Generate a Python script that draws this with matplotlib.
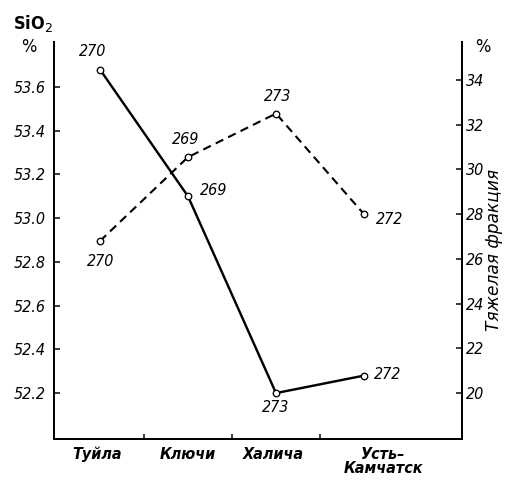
import matplotlib
matplotlib.use("Agg")
import matplotlib.pyplot as plt

# ---- data ----
categories = ["Туйла", "Ключи", "Халича", "Усть–\nКамчатск"]
sio2 = [53.68, 53.10, 52.20, 52.28]          # solid line, left axis (%)
sio2_labels = ["270", "269", "273", "272"]
heavy = [26.8, 30.55, 32.5, 28.0]            # dashed line, right axis (%)
heavy_labels = ["270", "269", "273", "272"]
left_ticks = [52.2, 52.4, 52.6, 52.8, 53.0, 53.2, 53.4, 53.6]
right_ticks = [20, 22, 24, 26, 28, 30, 32, 34]

FAM = ["DejaVu Sans"]
tick_font = dict(family=FAM, style="italic", stretch="condensed", size=16)

DPI = 72
fig = plt.figure(figsize=(506 / DPI, 482 / DPI), dpi=DPI)
ax = fig.add_axes([54 / 506, 1 - 439 / 482, 408 / 506, 397 / 482])
ax2 = ax.twinx()

x = list(range(len(categories)))

ax.plot(x, sio2, color="black", lw=2.4, marker="o", ms=6.5,
        mfc="white", mec="black", mew=1.3, zorder=3)
ax2.plot(x, heavy, color="black", lw=2.1, ls=(0, (4, 2.6)), marker="o", ms=6.5,
         mfc="white", mec="black", mew=1.3, zorder=3)

ax.set_xlim(-0.523, 4.114)
ax.set_ylim(51.99, 53.806)
ax2.set_ylim(17.943, 35.70)

for a in (ax, ax2):
    a.spines["top"].set_visible(False)
    for s in a.spines.values():
        s.set_linewidth(2.0)

ax.set_yticks(left_ticks)
ax.set_yticklabels([f"{v:.1f}" for v in left_ticks], **tick_font)
ax.tick_params(axis="y", direction="in", length=6, width=1.5, pad=8)
ax2.set_yticks(right_ticks)
ax2.set_yticklabels([str(v) for v in right_ticks], **tick_font)
ax2.tick_params(axis="y", direction="in", length=6, width=1.5, pad=4)

ax.set_xticks([i + 0.5 for i in x[:-1]])
ax.set_xticklabels([])
ax.tick_params(axis="x", direction="in", length=5, width=1.5)

# category labels
cat_dx = [-3, 0, -3, 19]
for i, (c, dx) in enumerate(zip(categories, cat_dx)):
    ax.annotate(c, xy=(i, 0), xycoords=("data", "axes fraction"),
                xytext=(dx, -8), textcoords="offset points",
                ha="center", va="top", family=FAM, style="italic",
                stretch="condensed", weight="bold", size=16, linespacing=0.9)

# point labels
sio2_off = [(-7, 18), (26, 6), (0, -14), (24, 1)]
heavy_off = [(1, -21), (-2, 18), (2, 17), (26, -5)]
for i, (v, t, o) in enumerate(zip(sio2, sio2_labels, sio2_off)):
    ax.annotate(t, xy=(i, v), xytext=o, textcoords="offset points",
                ha="center", va="center", **tick_font)
for i, (v, t, o) in enumerate(zip(heavy, heavy_labels, heavy_off)):
    ax2.annotate(t, xy=(i, v), xytext=o, textcoords="offset points",
                 ha="center", va="center", **tick_font)

fig.text(33 / 506, 1 - 24 / 482, "SiO$_2$", ha="center", va="center",
         family=FAM, stretch="condensed", weight="bold", size=18)
fig.text(29 / 506, 1 - 47 / 482, "%", ha="center", va="center",
         family=FAM, stretch="condensed", size=18)
fig.text(483 / 506, 1 - 47 / 482, "%", ha="center", va="center",
         family=FAM, stretch="condensed", size=18)
fig.text(494 / 506, 1 - 250 / 482, "Тяжелая фракция", rotation=90,
         ha="center", va="center", family=FAM, style="italic", size=17)

fig.savefig("out.png", dpi=DPI)
